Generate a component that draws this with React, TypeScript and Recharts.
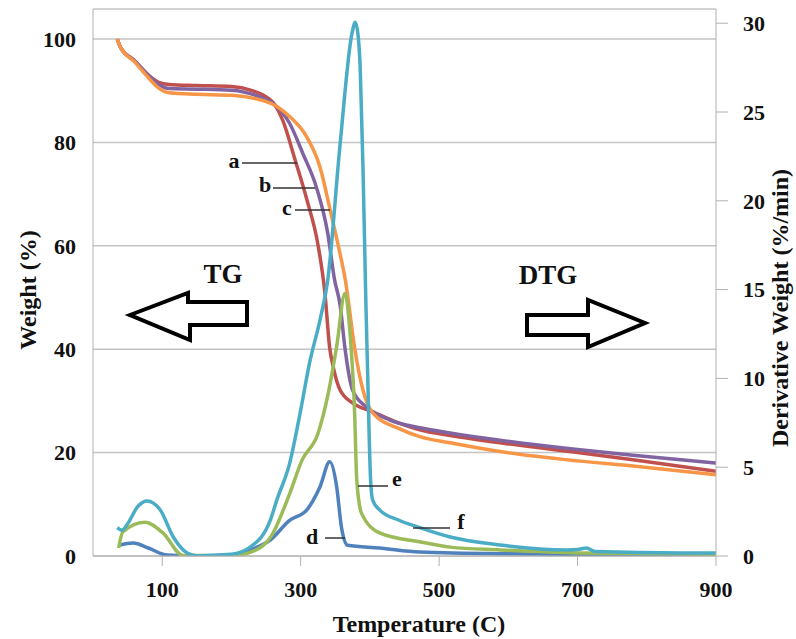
import React from 'react';
import { LineChart, Line, XAxis, YAxis, CartesianGrid } from 'recharts';

// TG curves (weight %, left axis)
const tempA = [35, 40, 60, 80, 95, 110, 150, 200, 230, 245, 262, 274, 292, 309, 325, 335, 342, 347, 357, 375, 404, 440, 472, 516, 588, 700, 780, 900];
const weightA = [100, 98.3, 95.8, 93, 91.6, 91.2, 91, 90.8, 90, 89.2, 87.4, 84.3, 76.6, 68.9, 60.2, 50.9, 40.2, 36.6, 32.1, 29.6, 27.9, 25.8, 24.4, 23.3, 21.9, 20, 18.6, 16.4];

const tempB = [35, 40, 60, 80, 95, 110, 150, 200, 241, 260, 284, 303, 323, 339, 349, 357, 364, 375, 395, 429, 472, 516, 588, 700, 780, 900];
const weightB = [100, 98.3, 95.8, 93, 91.2, 90.4, 90.3, 90.1, 88.8, 87.6, 83.7, 77.9, 71.2, 62.5, 53.4, 48.5, 40.2, 32.1, 28.8, 26.3, 24.8, 23.8, 22.4, 20.6, 19.5, 18];

const tempC = [35, 40, 60, 80, 95, 110, 150, 200, 256, 284, 309, 328, 342, 354, 365, 378, 390, 404, 443, 472, 516, 588, 700, 780, 900];
const weightC = [100, 98.3, 95.6, 92.5, 90.5, 89.6, 89.3, 89.1, 87.6, 85, 81, 75.2, 67.3, 60.2, 53, 40.2, 32.1, 27.7, 24.6, 23.1, 21.9, 20.2, 18.4, 17.4, 15.7];

// DTG curves (derivative weight %/min, right axis)
const tempD = [37, 58, 80, 107, 150, 200, 227, 256, 284, 309, 328, 342, 352, 359, 368, 414, 472, 600, 900];
const derivD = [0.6, 0.73, 0.45, 0.05, 0, 0.05, 0.34, 0.9, 2.0, 2.6, 3.9, 5.3, 3.9, 1.6, 0.6, 0.45, 0.22, 0.12, 0.05];

const tempE = [37, 43, 75, 101, 130, 200, 230, 258, 284, 302, 325, 339, 352, 364, 371, 378, 381, 388, 414, 472, 516, 588, 703, 900];
const derivE = [0.45, 1.35, 1.9, 1.3, 0.03, 0.02, 0.25, 1.15, 3.5, 5.4, 6.9, 9, 11.8, 14.8, 12.7, 8.0, 4.3, 2.4, 1.3, 0.8, 0.5, 0.34, 0.17, 0.1];

const tempF = [35, 42, 49, 65, 78, 97, 116, 136, 150, 200, 227, 256, 266, 284, 299, 313, 328, 339, 357, 374, 379, 383, 386, 390, 394, 397, 401, 404, 414, 443, 472, 516, 588, 684, 700, 713, 725, 852, 900];
const derivF = [1.6, 1.45, 1.75, 2.8, 3.1, 2.6, 1.07, 0.17, 0.02, 0.1, 0.5, 2.0, 3.2, 5.2, 8.0, 10.9, 13.3, 15.5, 23.2, 29.4, 30.05, 29.3, 27.5, 21.9, 14.6, 9.9, 4.3, 3.15, 2.6, 2.0, 1.6, 1.07, 0.62, 0.34, 0.36, 0.45, 0.25, 0.17, 0.17];

const tempTicks = [100, 300, 500, 700, 900];
const weightTicks = [0, 20, 40, 60, 80, 100];
const derivTicks = [0, 5, 10, 15, 20, 25, 30];

const zip = (xs: number[], ys: number[]) => xs.map((x, i) => ({ x, y: ys[i] }));

const serif = '"Liberation Serif", "Times New Roman", serif';
const axisGrey = '#b0b0b0';

const App = () => {
  const tickStyle = { fill: '#111', fontSize: 22, fontWeight: 'bold', fontFamily: serif };
  const labelStyle: React.CSSProperties = { fontFamily: serif, fontWeight: 'bold', fill: '#111' };

  return (
    <div style={{ position: 'absolute', left: 0, top: 0, width: 796, height: 639, background: '#fff' }}>
      <LineChart width={796} height={639} margin={{ top: 9, right: 0, bottom: 0, left: 0 }}>
        <CartesianGrid yAxisId="left" vertical={false} stroke="#c4c4c4" strokeWidth={1.5} />
        <XAxis
          type="number"
          dataKey="x"
          domain={[0, 900]}
          ticks={tempTicks}
          height={83}
          allowDataOverflow
          stroke={axisGrey}
          tickSize={10}
          tickMargin={15}
          tick={tickStyle}
        />
        <YAxis
          yAxisId="left"
          orientation="left"
          width={93}
          domain={[0, 105.8]}
          ticks={weightTicks}
          allowDataOverflow
          stroke={axisGrey}
          tickLine={false}
          tickSize={6}
          tickMargin={11}
          tick={tickStyle}
        />
        <YAxis
          yAxisId="right"
          orientation="right"
          width={80}
          domain={[0, 30.8]}
          ticks={derivTicks}
          allowDataOverflow
          stroke={axisGrey}
          tickSize={12}
          tickMargin={15}
          tick={{ ...tickStyle, textAnchor: 'start' }}
        />
        <Line yAxisId="left" data={zip(tempA, weightA)} dataKey="y" type="monotone" stroke="#C0504D" strokeWidth={3.5} dot={false} isAnimationActive={false} />
        <Line yAxisId="left" data={zip(tempB, weightB)} dataKey="y" type="monotone" stroke="#8064A2" strokeWidth={3.5} dot={false} isAnimationActive={false} />
        <Line yAxisId="left" data={zip(tempC, weightC)} dataKey="y" type="monotone" stroke="#F79646" strokeWidth={3.5} dot={false} isAnimationActive={false} />
        <Line yAxisId="right" data={zip(tempD, derivD)} dataKey="y" type="monotone" stroke="#4F81BD" strokeWidth={3.5} dot={false} isAnimationActive={false} />
        <Line yAxisId="right" data={zip(tempE, derivE)} dataKey="y" type="monotone" stroke="#9BBB59" strokeWidth={3.5} dot={false} isAnimationActive={false} />
        <Line yAxisId="right" data={zip(tempF, derivF)} dataKey="y" type="monotone" stroke="#4BACC6" strokeWidth={3.5} dot={false} isAnimationActive={false} />
      </LineChart>

      {/* titles, arrows and curve labels */}
      <svg width={796} height={639} style={{ position: 'absolute', left: 0, top: 0, pointerEvents: 'none' }}>
        <text transform="translate(28,290) rotate(-90)" textAnchor="middle" dominantBaseline="central" fontSize={24} style={labelStyle}>Weight (%)</text>
        <text transform="translate(780,308) rotate(-90)" textAnchor="middle" dominantBaseline="central" fontSize={24} style={labelStyle}>Derivative Weight (%/min)</text>
        <text x={419} y={632} textAnchor="middle" fontSize={24} style={labelStyle}>Temperature (C)</text>

        <text x={223} y={283} textAnchor="middle" fontSize={27} style={labelStyle}>TG</text>
        <text x={548} y={284} textAnchor="middle" fontSize={27} style={labelStyle}>DTG</text>

        <polygon points="130,315 188,293 188,302 247,302 247,325 190,325 190,340" fill="#fff" stroke="#000" strokeWidth={4} />
        <polygon points="527,315 588,315 588,300 645,323 588,347 588,335 527,335" fill="#fff" stroke="#000" strokeWidth={4} />

        <g stroke="#333" strokeWidth={1.5}>
          <line x1={242} y1={163} x2={297} y2={163} />
          <line x1={273} y1={188} x2={315} y2={188} />
          <line x1={295} y1={210} x2={330} y2={210} />
          <line x1={325} y1={538} x2={345} y2={538} />
          <line x1={358} y1={486} x2={388} y2={486} />
          <line x1={413} y1={528} x2={450} y2={528} />
        </g>
        <g fontSize={22} style={labelStyle} textAnchor="middle" dominantBaseline="central">
          <text x={234} y={160}>a</text>
          <text x={265} y={184}>b</text>
          <text x={287} y={207}>c</text>
          <text x={312} y={536}>d</text>
          <text x={397} y={478}>e</text>
          <text x={461} y={521}>f</text>
        </g>
      </svg>
    </div>
  );
};

export default App;
